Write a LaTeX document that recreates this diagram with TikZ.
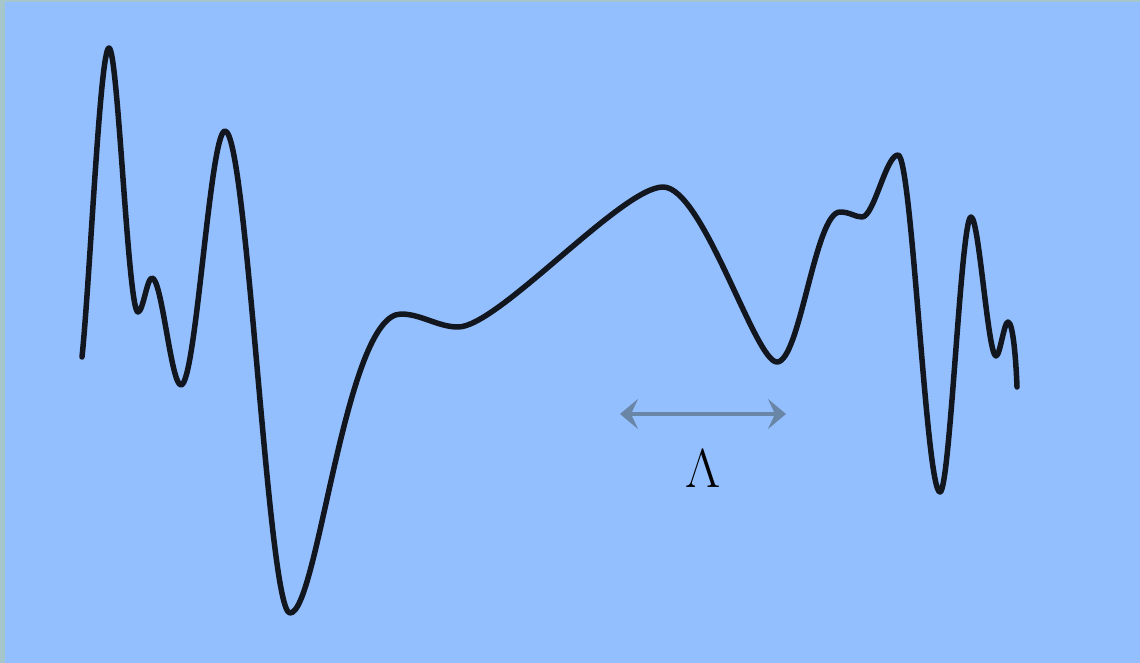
\documentclass[tikz,border=0pt]{standalone}
\usetikzlibrary{arrows.meta}
\definecolor{bg}{HTML}{94BFFF}
\definecolor{edge}{HTML}{A5C6CB}
\definecolor{curve}{HTML}{12171F}
\definecolor{arr}{HTML}{6A86A6}
\tikzset{
  wave/.style={draw=curve, line width=5.5pt, line cap=round, line join=round},
  dimarrow/.style={draw=arr, line width=3.5pt, {Stealth[length=18pt,width=30pt,inset=7pt]}-{Stealth[length=18pt,width=30pt,inset=7pt]}},
  lbl/.style={font=\Huge, scale=2.2, inner sep=0pt}
}
\begin{document}
\begin{tikzpicture}[x=1pt,y=-1pt]
\useasboundingbox (0,0) rectangle (1140,663);
\fill[edge] (0,0) rectangle (1140,663);
\fill[bg] (5,2) rectangle (1140,663);
\draw[wave] (82,357)
 .. controls (90,280) and (100,48) .. (109,48)
 .. controls (118,48) and (128,312) .. (138,312)
 .. controls (143,312) and (147,278) .. (152,278)
 .. controls (162,278) and (171,385) .. (181,385)
 .. controls (196,385) and (210,131) .. (225,131)
 .. controls (247,131) and (268,613) .. (290,613)
 .. controls (318,613) and (345,314) .. (401,314)
 .. controls (421,314) and (438,327) .. (458,327)
 .. controls (498,327) and (622,187) .. (663,187)
 .. controls (703,187) and (755,362) .. (777,362)
 .. controls (800,362) and (815,212) .. (840,212)
 .. controls (850,212) and (855,217) .. (862,217)
 .. controls (874,217) and (886,155) .. (898,155)
 .. controls (912,155) and (926,492) .. (940,492)
 .. controls (950,492) and (961,217) .. (971,217)
 .. controls (979,217) and (988,356) .. (996,356)
 .. controls (1000,356) and (1004,322) .. (1008,322)
 .. controls (1013,322) and (1016,360) .. (1017,387);
\coordinate (al) at (620,414);
\coordinate (ar) at (786,414);
\draw[dimarrow] (al) -- (ar);
\node[lbl] (lam) at (703,469) {$\Lambda$};
\end{tikzpicture}
\end{document}
